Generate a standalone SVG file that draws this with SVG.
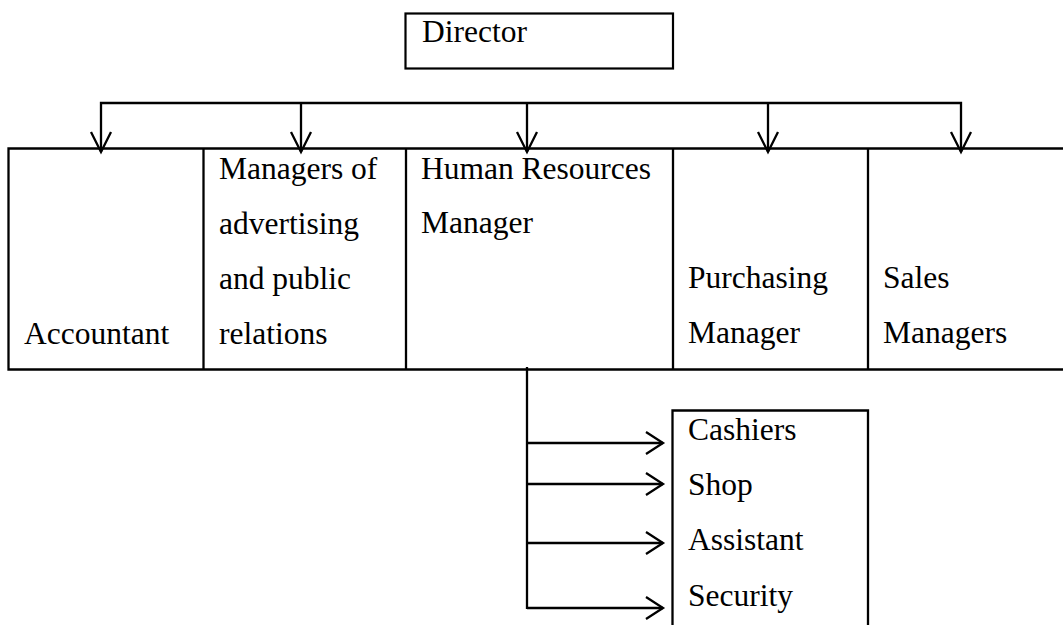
<svg xmlns="http://www.w3.org/2000/svg" width="1063" height="625" viewBox="0 0 1063 625">
  <style>
    .box { fill: #ffffff; stroke: #000000; stroke-width: 2.2; }
    .frame { fill: none; stroke: #000000; stroke-width: 2.3; }
    .wire { fill: none; stroke: #000000; stroke-width: 2.3; }
    .head { fill: none; stroke: #000000; stroke-width: 2.3; stroke-linejoin: miter; }
    .label { font-family: "Liberation Serif", "Times New Roman", serif; font-size: 31.5px; fill: #000000; }
  </style>
  <rect width="1063" height="625" fill="#ffffff"/>

  <!-- Director -->
  <g id="director">
    <rect class="box" x="405.5" y="13.5" width="267.5" height="55" stroke-width="2.8"/>
    <text class="label" x="422" y="42">Director</text>
  </g>

  <!-- Department row: shared frame and cells -->
  <g id="department-row">
    <path class="frame" d="M1063 148.5 H8.5 V369.5 H1063"/>
  </g>
  <g id="accountant">
    <text class="label" x="24" y="344">Accountant</text>
  </g>
  <g id="advertising">
    <line class="frame" x1="203.5" y1="148.5" x2="203.5" y2="369.5"/>
    <text class="label" x="219" y="179">Managers of</text>
    <text class="label" x="219" y="234">advertising</text>
    <text class="label" x="219" y="289">and public</text>
    <text class="label" x="219" y="344">relations</text>
  </g>
  <g id="human-resources">
    <line class="frame" x1="406" y1="148.5" x2="406" y2="369.5"/>
    <text class="label" x="421" y="179">Human Resources</text>
    <text class="label" x="421" y="233">Manager</text>
  </g>
  <g id="purchasing">
    <line class="frame" x1="673" y1="148.5" x2="673" y2="369.5"/>
    <text class="label" x="688" y="288">Purchasing</text>
    <text class="label" x="688" y="343">Manager</text>
  </g>
  <g id="sales">
    <line class="frame" x1="868" y1="148.5" x2="868" y2="369.5"/>
    <text class="label" x="883" y="288">Sales</text>
    <text class="label" x="883" y="343">Managers</text>
  </g>

  <!-- Staff list under Human Resources -->
  <g id="staff">
    <path class="frame" d="M672.5 630 V410.5 H868 V630"/>
    <text class="label" x="688" y="440">Cashiers</text>
    <text class="label" x="688" y="495">Shop</text>
    <text class="label" x="688" y="550">Assistant</text>
    <text class="label" x="688" y="606">Security</text>
  </g>

  <!-- Connectors -->
  <g id="connectors">
    <!-- distribution bar with downward arrows -->
    <path class="wire" d="M101 152 V103 H961 V152"/>
    <line class="wire" x1="301" y1="103" x2="301" y2="152"/>
    <line class="wire" x1="527" y1="103" x2="527" y2="152"/>
    <line class="wire" x1="768" y1="103" x2="768" y2="152"/>
    <path class="head" d="M91 132 L101 152 L111 132"/>
    <path class="head" d="M291 132 L301 152 L311 132"/>
    <path class="head" d="M517 132 L527 152 L537 132"/>
    <path class="head" d="M758 132 L768 152 L778 132"/>
    <path class="head" d="M951 132 L961 152 L971 132"/>

    <!-- staff branch with right arrows -->
    <line class="wire" x1="527" y1="367" x2="527" y2="609" stroke-width="3"/>
    <line class="wire" x1="527" y1="443" x2="663" y2="443"/>
    <line class="wire" x1="527" y1="484" x2="663" y2="484"/>
    <line class="wire" x1="527" y1="543" x2="663" y2="543"/>
    <line class="wire" x1="527" y1="608" x2="663" y2="608"/>
    <path class="head" d="M646 432 L663 443 L646 454"/>
    <path class="head" d="M646 473 L663 484 L646 495"/>
    <path class="head" d="M646 532 L663 543 L646 554"/>
    <path class="head" d="M646 597 L663 608 L646 619"/>
  </g>
</svg>
